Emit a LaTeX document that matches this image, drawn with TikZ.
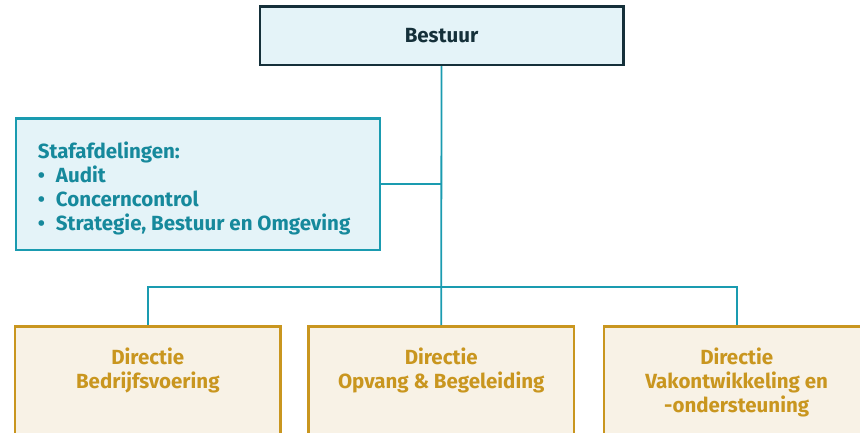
\documentclass[tikz,border=0pt]{standalone}
\usepackage{fontspec}
\setmainfont{Fira Sans}
\usetikzlibrary{positioning}
\definecolor{orgNavy}{HTML}{15303A}
\definecolor{orgBlueFill}{HTML}{E4F3F8}
\definecolor{orgTeal}{HTML}{1A9BB0}
\definecolor{orgTealText}{HTML}{16899C}
\definecolor{orgGold}{HTML}{C9961F}
\definecolor{orgGoldFill}{HTML}{F8F2E6}
\newcommand{\orgDirText}[1]{\parbox[c][110pt][t]{260pt}{\centering #1}}
\newcommand{\orgStafText}[1]{\parbox[c][85pt][t]{320pt}{\raggedright #1}}
\newcommand{\orgItem}{\textbullet\hspace{11pt}}
\begin{document}
\begin{tikzpicture}[x=1pt, y=-1pt,
  font=\fontsize{20.5}{24}\selectfont\bfseries,
  boxbase/.style={draw, line width=2.5pt, inner sep=0pt},
  topbox/.style={boxbase, draw=orgNavy, fill=orgBlueFill, text=orgNavy,
    minimum width=363.5pt, minimum height=58.5pt},
  stafbox/.style={boxbase, draw=orgTeal, fill=orgBlueFill, text=orgTealText,
    anchor=north west, inner xsep=22pt, inner ysep=23.4pt},
  dirbox/.style={boxbase, draw=orgGold, fill=orgGoldFill, text=orgGold,
    anchor=north, minimum width=265.5pt, inner ysep=22pt},
  connector/.style={draw=orgTeal, line width=1.8pt}]
% Page size as in the reference, boxes at the bottom run off the page
\useasboundingbox (0,0) rectangle (860,432);
\clip (0,0) rectangle (860,432);
% Boxes
\node[topbox] (bestuur) at (441.5,35.5) {Bestuur};
\node[stafbox] (staf) at (14.6,117) {\orgStafText{Stafafdelingen:\\
  \orgItem Audit\\
  \orgItem Concerncontrol\\
  \orgItem Strategie, Bestuur en Omgeving}};
\node[dirbox] (dirBV) at (147.8,325) {\orgDirText{Directie\\Bedrijfsvoering}};
\node[dirbox] (dirOB) at (441.2,325) {\orgDirText{Directie\\Opvang \& Begeleiding}};
\node[dirbox] (dirVO) at (736.7,325) {\orgDirText{Directie\\Vakontwikkeling en\\-ondersteuning}};
% Connectors
\coordinate (bar) at (441.2,286.7);
\draw[connector] (bestuur.south) -- (dirOB.north);
\draw[connector] (staf.east) -- (staf.east -| bestuur.south);
\draw[connector] (dirBV.north) |- (bar) -| (dirVO.north);
\end{tikzpicture}
\end{document}
